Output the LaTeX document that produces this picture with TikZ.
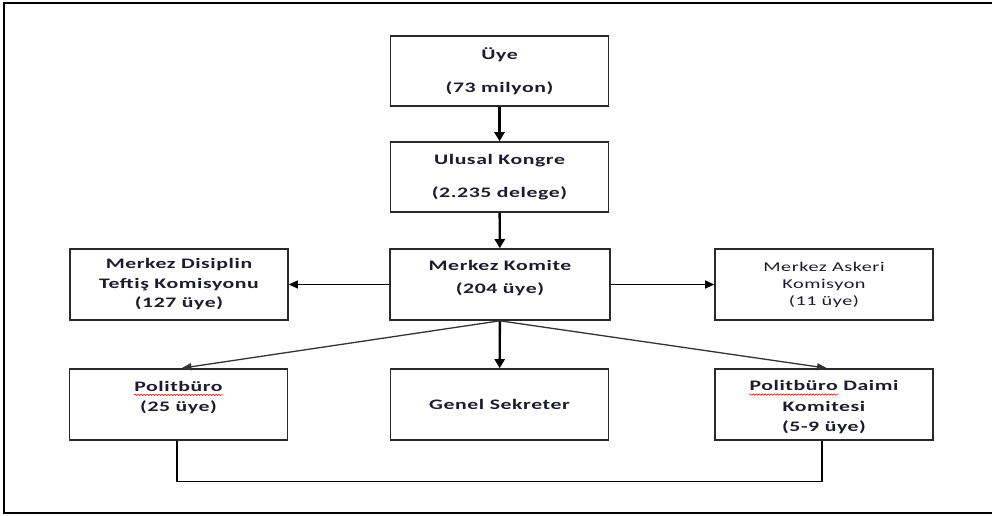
\documentclass[tikz,border=0pt]{standalone}
\usepackage{fontspec}
\setmainfont{Carlito}[FakeStretch=1.5,LetterSpace=4]
\usetikzlibrary{arrows.meta,decorations.pathmorphing,calc}
\definecolor{txt}{HTML}{1C1C2C}
\definecolor{boxline}{HTML}{2A2A2A}
\begin{document}
\begin{tikzpicture}[x=1pt,y=-1pt,
  box/.style={draw=boxline,line width=1.6pt,minimum width=218pt,minimum height=71pt,inner sep=0pt,align=center,text=txt,font=\fontsize{14.5}{19.5}\selectfont\bfseries},
  boxtext/.style={inner sep=0pt,align=center,text=txt,font=\fontsize{14.5}{20.5}\selectfont\bfseries},
  thick arr/.style={line width=2.4pt,-{Triangle[length=9pt,width=10pt]}},
  thin arr/.style={line width=1.1pt,-{Triangle[length=9pt,width=8pt]}},
  diag arr/.style={line width=1.3pt,draw=black!80,-{Triangle[length=10pt,width=7pt]}},
  joint/.style={line width=1.1pt},
  spell/.style={red,line width=0.6pt,decorate,decoration={snake,amplitude=0.7pt,segment length=3pt}}]
\useasboundingbox (0,0) rectangle (992,516);
\draw[line width=2.6pt] (1010,3) -- (4,3) -- (4,513) -- (1010,513);
\node[box,minimum height=70pt] (uye) at (499.5,71) {Üye\\[14pt](73 milyon)};
\node[box,minimum height=70pt] (kongre) at (499.5,177) {Ulusal Kongre\\[14pt](2.235 delege)};
\node[box,minimum width=220pt] (mk) at (500,284.5) {};
\node[boxtext,font=\fontsize{14.5}{23}\selectfont\bfseries] (mkt) at ([yshift=6pt]mk.center) {Merkez Komite\\(204 üye)};
\node[box] (mdtk) at (179,284.5) {Merkez Disiplin\\Teftiş Komisyonu\\(127 üye)};
\node[box,font=\fontsize{13.5}{17}\selectfont] (mak) at (824,284.5) {Merkez Askeri\\Komisyon\\(11 üye)};
\node[box] (pb) at (178.5,404.5) {};
\node[boxtext] (pbt) at ([yshift=7pt]pb.center) {Politbüro\\(25 üye)};
\node[box] (gs) at (499.5,404.5) {Genel Sekreter};
\node[box] (pdk) at (824,404.5) {};
\node[boxtext] (pdkt) at ([yshift=-3pt]pdk.center) {Politbüro Daimi\\Komitesi\\(5-9 üye)};
\draw[thick arr] (uye) -- (kongre);
\draw[thick arr] (kongre) -- (mk);
\draw[thick arr] (mk) -- (gs);
\draw[thin arr] (mk) -- (mdtk);
\draw[thin arr] (mk) -- (mak);
\draw[diag arr] (mk.south) -- ([xshift=3pt]pb.north);
\draw[diag arr] (mk.south) -- ([xshift=3pt]pdk.north);
\draw[joint] ([xshift=-1.5pt]pb.south) -- ++(0,41) coordinate (jl) -| ([xshift=-2pt]pdk.south);
\draw[spell] ($(pbt.north west)+(0,14)$) -- ($(pbt.north east)+(0,14)$);
\draw let \p1=($(pbt.north east)-(pbt.north west)$) in
  [spell] ($(pdkt.north west)+(0,14)$) -- ++(\x1,0);
\end{tikzpicture}
\end{document}
